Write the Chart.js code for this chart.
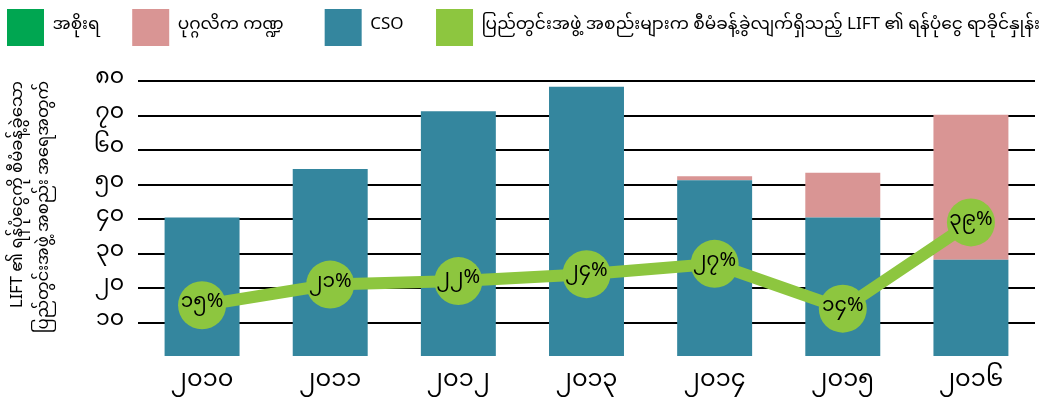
<!DOCTYPE html>
<html>
<head>
<meta charset="utf-8">
<script src="https://cdn.jsdelivr.net/npm/chart.js@4/dist/chart.umd.min.js"></script>
<style>
    html, body { margin: 0; padding: 0; background: #fff; }
    #wrap { width: 1064px; height: 400px; position: relative; }
</style>
</head>
<body>
<div id="wrap"><canvas id="liftChart"></canvas></div>
<script>
        // Data
        const years = ['၂၀၁၀', '၂၀၁၁', '၂၀၁၂', '၂၀၁၃', '၂၀၁၄', '၂၀၁၅', '၂၀၁၆'];
        const govValues = [0, 0, 0, 0, 0, 0, 0];
        const privateValues = [0, 0, 0, 0, 1.2, 13, 42];
        const csoValues = [40.4, 54.5, 71.2, 78.3, 51.2, 40.4, 28.2];
        const fundShare = [15, 21, 22, 24, 27, 14, 39];
        const yTicks = [10, 20, 30, 40, 50, 60, 70, 80];

        const lineLabel = 'ပြည်တွင်းအဖွဲ့ အစည်းများက စီမံခန့်ခွဲလျက်ရှိသည့် LIFT ၏ ရန်ပုံငွေ ရာခိုင်နှုန်း';
        const yTitle = ['LIFT ၏ ရန်ပုံငွေကို စီမံခန့်ခွဲသော', 'ပြည်တွင်းအဖွဲ့ အစည်း အရေအတွက်'];
        // legend goes: government, private, CSO, line  (dataset index -> place)
        const legendRank = [2, 1, 0, 3];

        const myDigits = '၀၁၂၃၄၅၆၇၈၉';
        function toMyanmar(n) {
            return String(n).replace(/[0-9]/g, d => myDigits[+d]);
        }

        const FONT = "'Noto Sans Myanmar', 'Myanmar Text', 'Padauk', 'Noto Sans', sans-serif";
        const GREEN_LINE = '#8dc63f';

        // labels inside the circles of the line
        const pointLabels = {
            id: 'pointLabels',
            afterDatasetsDraw(chart) {
                const meta = chart.getDatasetMeta(3);
                const c = chart.ctx;
                c.save();
                c.font = '20px ' + FONT;
                c.fillStyle = '#000';
                c.textAlign = 'center';
                c.textBaseline = 'middle';
                meta.data.forEach((pt, i) => {
                    c.fillText(toMyanmar(fundShare[i]) + '%', pt.x, pt.y);
                });
                c.restore();
            }
        };

        const ctx = document.getElementById('liftChart').getContext('2d');
        const liftChart = new Chart(ctx, {
            type: 'bar',
            data: {
                labels: years,
                datasets: [
                    {
                        label: 'CSO',
                        data: csoValues,
                        backgroundColor: '#34869e',
                        order: 1
                    },
                    {
                        label: 'ပုဂ္ဂလိက ကဏ္ဍ',
                        data: privateValues,
                        backgroundColor: '#d99594',
                        order: 1
                    },
                    {
                        label: 'အစိုးရ',
                        data: govValues,
                        backgroundColor: '#00a651',
                        order: 1
                    },
                    {
                        type: 'line',
                        label: lineLabel,
                        data: fundShare,
                        borderColor: GREEN_LINE,
                        backgroundColor: GREEN_LINE,
                        borderWidth: 12,
                        pointRadius: 24,
                        pointBorderWidth: 0,
                        pointBackgroundColor: GREEN_LINE,
                        tension: 0,
                        order: 0
                    }
                ]
            },
            options: {
                responsive: true,
                maintainAspectRatio: false,
                animation: false,
                layout: { padding: { left: 0, right: 0, top: 2, bottom: 0 } },
                datasets: {
                    bar: { barPercentage: 0.585, categoryPercentage: 1 }
                },
                scales: {
                    x: {
                        stacked: true,
                        grid: { display: false, drawTicks: false },
                        border: { display: false },
                        afterFit(scale) { scale.height = 43; },
                        ticks: {
                            color: '#000',
                            font: { family: FONT, size: 24 },
                            padding: 12
                        }
                    },
                    // empty axis on top, only to leave room under the legend
                    xTop: {
                        position: 'top',
                        grid: { display: false },
                        border: { display: false },
                        ticks: { display: false },
                        afterFit(scale) { scale.height = 25; }
                    },
                    y: {
                        stacked: true,
                        min: 0,
                        max: 80,
                        afterBuildTicks(scale) {
                            scale.ticks = [0].concat(yTicks).map(v => ({ value: v }));
                        },
                        afterFit(scale) { scale.width = 138; },
                        border: { display: false },
                        grid: {
                            drawTicks: false,
                            lineWidth: 2,
                            color: c => c.tick && c.tick.value === 0 ? 'rgba(0,0,0,0)' : '#000'
                        },
                        ticks: {
                            color: '#000',
                            padding: 14,
                            font: { family: FONT, size: 22 },
                            callback: v => v === 0 ? '' : toMyanmar(v)
                        },
                        title: {
                            display: true,
                            text: yTitle,
                            align: 'end',
                            color: '#000',
                            font: { family: FONT, size: 16.5, lineHeight: 1.6 },
                            padding: { top: 7, bottom: 0 }
                        }
                    },
                    // empty axis on the right, only to keep the plot off the edge
                    yRight: {
                        position: 'right',
                        grid: { display: false },
                        border: { display: false },
                        ticks: { display: false },
                        afterFit(scale) { scale.width = 29; }
                    }
                },
                plugins: {
                    legend: {
                        position: 'top',
                        align: 'start',
                        labels: {
                            color: '#000',
                            boxWidth: 37,
                            boxHeight: 37,
                            padding: 7,
                            font: { family: FONT, size: 17 },
                            generateLabels(chart) {
                                const items = Chart.defaults.plugins.legend.labels.generateLabels(chart);
                                items.forEach(it => {
                                    it.lineWidth = 0;
                                    // wider gap after the short items
                                    if (it.datasetIndex === 1) it.text += '\u2002\u2002\u2002\u2002';
                                    else if (it.datasetIndex !== 3) it.text += '\u2002\u2002\u2002';
                                });
                                return items;
                            },
                            sort: (a, b) => legendRank[a.datasetIndex] - legendRank[b.datasetIndex]
                        }
                    },
                    tooltip: { enabled: false }
                }
            },
            plugins: [pointLabels]
        });
</script>
</body>
</html>
